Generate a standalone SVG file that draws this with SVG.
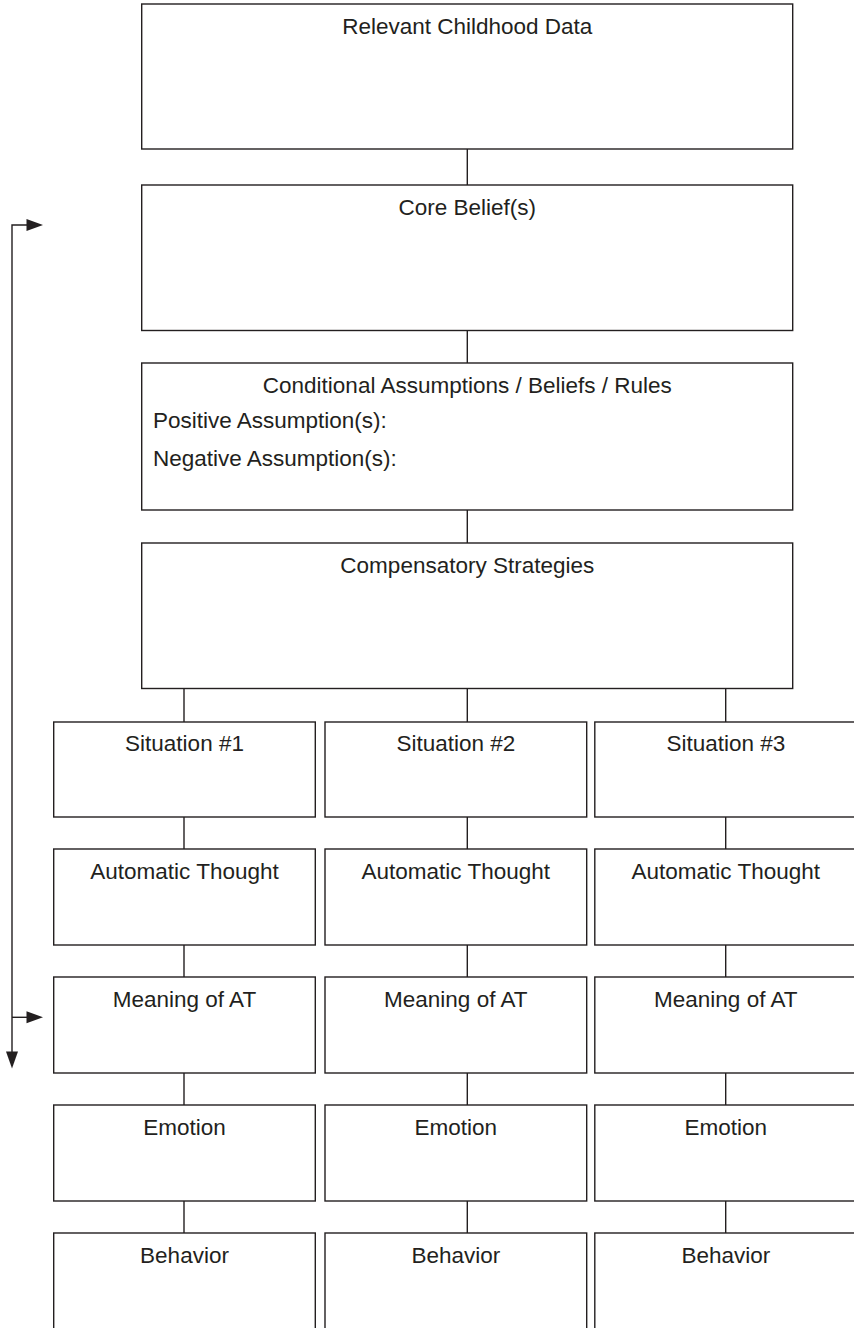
<svg xmlns="http://www.w3.org/2000/svg" width="854" height="1328" viewBox="0 0 854 1328">
<style>
.box{fill:#fff;stroke:#231f20;stroke-width:1.4}
.lbl{font-family:"Liberation Sans",Arial,sans-serif;font-size:22.5px;fill:#231f20;text-anchor:middle}
.lft{font-family:"Liberation Sans",Arial,sans-serif;font-size:22.5px;fill:#231f20}
.con{stroke:#231f20;stroke-width:1.4;fill:none}
.head{fill:#231f20}
</style>
<rect width="854" height="1328" fill="#fff"/>
<g id="connectors">
<line class="con" x1="467.3" y1="149" x2="467.3" y2="185"/>
<line class="con" x1="467.3" y1="330.5" x2="467.3" y2="363"/>
<line class="con" x1="467.3" y1="510" x2="467.3" y2="543"/>
<line class="con" x1="184" y1="688.5" x2="184" y2="722"/>
<line class="con" x1="467.3" y1="688.5" x2="467.3" y2="722"/>
<line class="con" x1="725.7" y1="688.5" x2="725.7" y2="722"/>
<line class="con" x1="184" y1="817" x2="184" y2="849"/>
<line class="con" x1="467.3" y1="817" x2="467.3" y2="849"/>
<line class="con" x1="725.7" y1="817" x2="725.7" y2="849"/>
<line class="con" x1="184" y1="945" x2="184" y2="977"/>
<line class="con" x1="467.3" y1="945" x2="467.3" y2="977"/>
<line class="con" x1="725.7" y1="945" x2="725.7" y2="977"/>
<line class="con" x1="184" y1="1073" x2="184" y2="1105"/>
<line class="con" x1="467.3" y1="1073" x2="467.3" y2="1105"/>
<line class="con" x1="725.7" y1="1073" x2="725.7" y2="1105"/>
<line class="con" x1="184" y1="1201" x2="184" y2="1233"/>
<line class="con" x1="467.3" y1="1201" x2="467.3" y2="1233"/>
<line class="con" x1="725.7" y1="1201" x2="725.7" y2="1233"/>
<path class="con" d="M12,1053 L12,225 L27,225"/>
<path class="head" d="M26.5,219 L43,225 L26.5,231 Z"/>
<path class="con" d="M12,1017.3 L27,1017.3"/>
<path class="head" d="M26.5,1011.3 L43,1017.3 L26.5,1023.3 Z"/>
<path class="head" d="M6,1051.5 L18,1051.5 L12,1068.5 Z"/>
</g>
<g id="n-childhood"><rect class="box" x="141.7" y="4" width="651" height="145"/><text class="lbl" x="467.3" y="34">Relevant Childhood Data</text></g>
<g id="n-core"><rect class="box" x="141.7" y="185" width="651" height="145.5"/><text class="lbl" x="467.3" y="215">Core Belief(s)</text></g>
<g id="n-cond"><rect class="box" x="141.7" y="363" width="651" height="147"/><text class="lbl" x="467.3" y="393">Conditional Assumptions / Beliefs / Rules</text><text class="lft" x="153" y="428">Positive Assumption(s):</text><text class="lft" x="153" y="466">Negative Assumption(s):</text></g>
<g id="n-comp"><rect class="box" x="141.7" y="543" width="651" height="145.5"/><text class="lbl" x="467.3" y="573">Compensatory Strategies</text></g>
<g id="n-sit1"><rect class="box" x="53.7" y="722" width="261.6" height="95"/><text class="lbl" x="184.5" y="751">Situation #1</text></g>
<g id="n-sit2"><rect class="box" x="325" y="722" width="261.7" height="95"/><text class="lbl" x="455.8" y="751">Situation #2</text></g>
<g id="n-sit3"><rect class="box" x="594.8" y="722" width="262" height="95"/><text class="lbl" x="725.8" y="751">Situation #3</text></g>
<g id="n-at1"><rect class="box" x="53.7" y="849" width="261.6" height="96"/><text class="lbl" x="184.5" y="879">Automatic Thought</text></g>
<g id="n-at2"><rect class="box" x="325" y="849" width="261.7" height="96"/><text class="lbl" x="455.8" y="879">Automatic Thought</text></g>
<g id="n-at3"><rect class="box" x="594.8" y="849" width="262" height="96"/><text class="lbl" x="725.8" y="879">Automatic Thought</text></g>
<g id="n-mean1"><rect class="box" x="53.7" y="977" width="261.6" height="96"/><text class="lbl" x="184.5" y="1007">Meaning of AT</text></g>
<g id="n-mean2"><rect class="box" x="325" y="977" width="261.7" height="96"/><text class="lbl" x="455.8" y="1007">Meaning of AT</text></g>
<g id="n-mean3"><rect class="box" x="594.8" y="977" width="262" height="96"/><text class="lbl" x="725.8" y="1007">Meaning of AT</text></g>
<g id="n-emo1"><rect class="box" x="53.7" y="1105" width="261.6" height="96"/><text class="lbl" x="184.5" y="1135">Emotion</text></g>
<g id="n-emo2"><rect class="box" x="325" y="1105" width="261.7" height="96"/><text class="lbl" x="455.8" y="1135">Emotion</text></g>
<g id="n-emo3"><rect class="box" x="594.8" y="1105" width="262" height="96"/><text class="lbl" x="725.8" y="1135">Emotion</text></g>
<g id="n-beh1"><rect class="box" x="53.7" y="1233" width="261.6" height="100"/><text class="lbl" x="184.5" y="1263">Behavior</text></g>
<g id="n-beh2"><rect class="box" x="325" y="1233" width="261.7" height="100"/><text class="lbl" x="455.8" y="1263">Behavior</text></g>
<g id="n-beh3"><rect class="box" x="594.8" y="1233" width="262" height="100"/><text class="lbl" x="725.8" y="1263">Behavior</text></g>
</svg>
